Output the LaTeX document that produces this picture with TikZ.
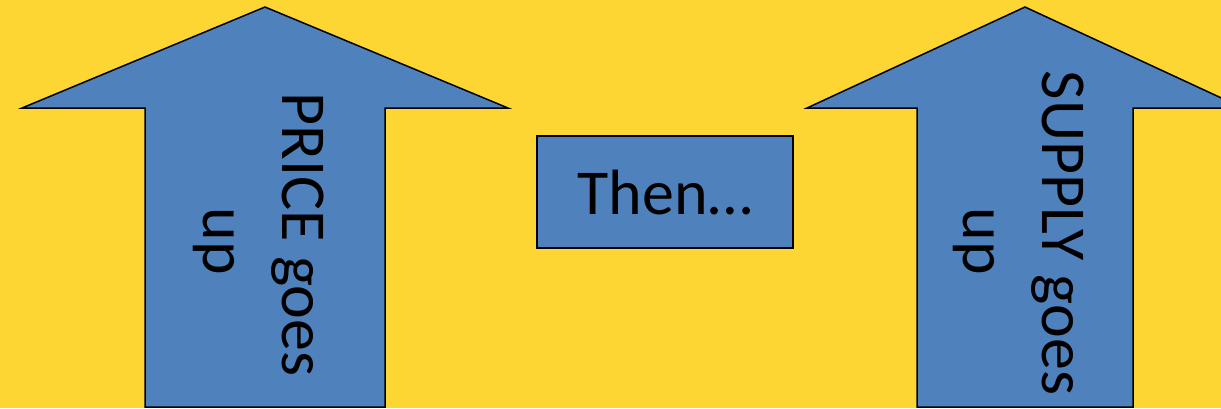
\documentclass[tikz,border=0pt]{standalone}
\usepackage{fontspec}
\setmainfont{Carlito}
\definecolor{bgyellow}{RGB}{254,214,51}
\definecolor{arrowblue}{RGB}{79,129,189}
\tikzset{
  shapefill/.style={fill=arrowblue, draw=black, line width=1.5pt, line join=miter},
  vtext/.style={rotate=-90, anchor=base, inner sep=0pt, font=\fontsize{64}{78}\selectfont},
}
\begin{document}
\begin{tikzpicture}[x=1pt, y=-1pt]
\useasboundingbox (0,0) rectangle (1221,408);
\clip (0,0) rectangle (1221,408);
\fill[bgyellow] (0,0) rectangle (1221,408);
% left arrow
\draw[shapefill] (265,7) -- (508,108) -- (385,108) -- (385,407) -- (145,407) -- (145,108) -- (22,108) -- cycle;
% right arrow
\draw[shapefill] (1025,7) -- (1243,108) -- (1133,108) -- (1133,407) -- (917,407) -- (917,108) -- (807,108) -- cycle;
% middle box
\node[shapefill, minimum width=256pt, minimum height=112pt, inner sep=0pt,
      font=\fontsize{64}{78}\selectfont, text depth=0pt, text height=44pt] (then) at (665,192) {Then…};
% texts
\node[vtext] (price1) at (282,234.5) {PRICE goes};
\node[vtext] (price2) at (203,241.5) {up};
\node[vtext] (supply1) at (1042,233) {SUPPLY goes};
\node[vtext] (supply2) at (963,241.5) {up};
\end{tikzpicture}
\end{document}
